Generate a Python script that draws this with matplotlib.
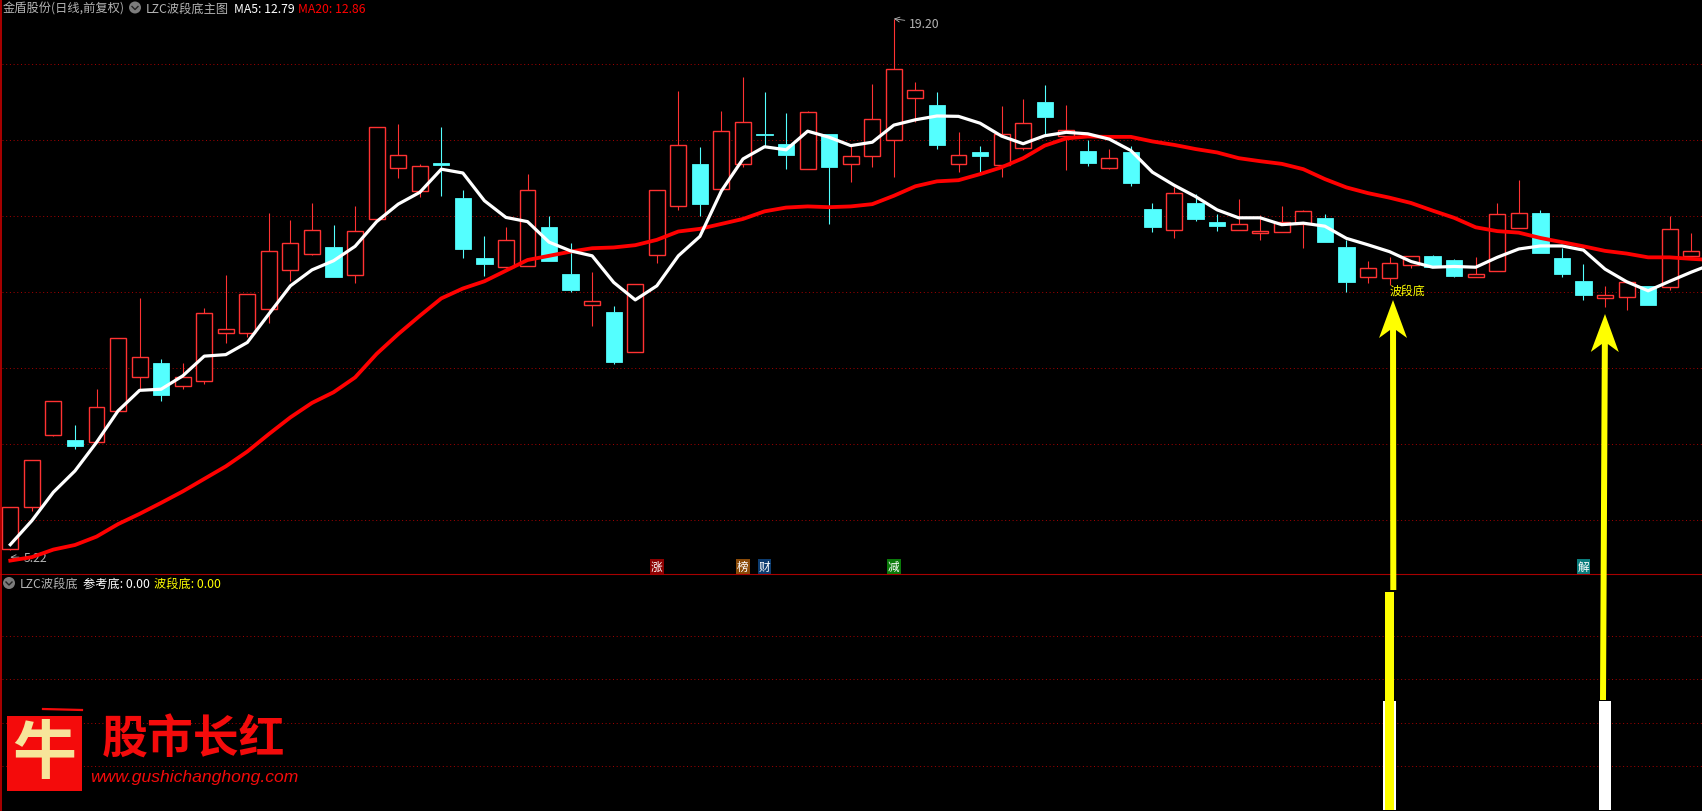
# Candlestick chart with MA lines and a signal pane below
import numpy as np
import matplotlib
matplotlib.use('Agg')
import matplotlib.pyplot as plt
from matplotlib.patches import Circle, Rectangle, Polygon

plt.rcParams['font.family'] = ['Noto Sans CJK SC', 'DejaVu Sans']

# price data
opens = [5.24, 6.36, 8.25, 8.11, 8.07, 8.88, 9.78, 10.14, 9.54, 9.67,
         10.94, 10.94, 11.55, 12.59, 13.02, 13.19, 12.46, 13.92, 15.26, 14.67,
         15.41, 14.48, 12.90, 12.67, 12.68, 13.72, 12.48, 11.67, 11.48, 10.44,
         12.99, 14.28, 15.38, 14.73, 15.38, 16.17, 15.90, 15.25, 16.17, 15.38,
         15.59, 16.00, 17.12, 16.93, 15.38, 15.69, 15.36, 15.80, 17.01, 16.11,
         15.72, 15.28, 15.69, 14.19, 13.65, 14.35, 13.85, 13.65, 13.56, 13.59,
         13.80, 13.96, 13.19, 12.41, 12.38, 12.73, 12.96, 12.85, 12.41, 12.57,
         13.70, 14.09, 12.90, 12.30, 11.84, 11.88, 12.17, 12.15, 12.96]
closes = [6.34, 7.60, 9.13, 7.95, 8.97, 10.79, 10.29, 9.30, 9.76, 11.45,
          11.03, 11.95, 13.10, 13.29, 13.63, 12.41, 13.61, 16.34, 15.61, 15.32,
          15.35, 13.15, 12.74, 13.37, 14.68, 12.82, 12.06, 11.77, 10.17, 12.21,
          14.68, 15.87, 14.32, 16.24, 16.47, 16.14, 15.61, 16.74, 15.30, 15.58,
          16.55, 17.87, 17.32, 15.88, 15.61, 15.59, 16.16, 16.45, 16.61, 16.26,
          15.40, 15.53, 14.88, 13.72, 14.61, 13.93, 13.74, 13.79, 13.61, 13.84,
          14.13, 13.32, 12.27, 12.63, 12.76, 12.95, 12.67, 12.43, 12.47, 14.05,
          14.08, 13.03, 12.48, 11.93, 11.93, 12.26, 11.67, 13.66, 13.10]
highs = [6.34, 7.60, 9.13, 8.51, 9.45, 10.79, 11.85, 10.24, 10.14, 11.59,
         12.45, 11.95, 14.10, 13.90, 14.35, 13.77, 14.27, 16.34, 16.43, 15.38,
         16.35, 14.69, 13.48, 13.72, 15.11, 14.01, 13.30, 12.53, 11.64, 12.21,
         14.68, 17.30, 15.82, 16.77, 17.67, 17.27, 16.72, 16.77, 16.17, 15.86,
         17.48, 19.20, 17.53, 17.27, 16.22, 15.85, 16.90, 17.09, 17.46, 16.93,
         16.01, 15.77, 15.85, 14.35, 14.77, 14.59, 14.06, 14.46, 14.03, 14.27,
         14.17, 14.06, 13.38, 12.82, 12.93, 12.95, 12.98, 12.88, 12.93, 14.35,
         14.96, 14.17, 13.17, 12.74, 12.17, 12.26, 12.17, 14.01, 13.56]
lows = [5.22, 6.25, 8.21, 7.88, 8.07, 8.88, 9.45, 9.15, 9.45, 9.59,
        10.67, 10.82, 11.20, 12.31, 12.98, 12.41, 12.25, 13.92, 15.01, 14.51,
        14.53, 12.90, 12.43, 12.64, 12.68, 12.82, 12.02, 11.12, 10.12, 10.44,
        12.77, 14.17, 14.01, 14.73, 15.31, 15.82, 15.24, 15.25, 13.80, 14.90,
        15.30, 15.04, 16.48, 15.77, 15.17, 15.14, 15.03, 15.74, 16.17, 15.22,
        15.32, 15.24, 14.80, 13.59, 13.43, 13.88, 13.61, 13.65, 13.38, 13.59,
        13.17, 13.32, 12.01, 12.24, 12.19, 12.64, 12.67, 12.40, 12.41, 12.57,
        13.70, 13.03, 12.40, 11.80, 11.61, 11.53, 11.67, 12.06, 12.93]

# one extra point so the lines run off the right edge
ma5 = [5.36, 5.99, 6.74, 7.30, 8.05, 8.88, 9.42, 9.45, 9.80, 10.32,
       10.36, 10.68, 11.43, 12.17, 12.59, 12.83, 13.21, 13.86, 14.32, 14.63,
       15.24, 15.14, 14.41, 13.97, 13.86, 13.32, 13.09, 12.96, 12.26, 11.80,
       12.17, 12.96, 13.47, 14.67, 15.51, 15.83, 15.75, 16.24, 16.08, 15.86,
       15.95, 16.40, 16.54, 16.64, 16.63, 16.45, 16.11, 15.91, 16.12, 16.21,
       16.17, 16.03, 15.73, 15.16, 14.82, 14.52, 14.17, 13.96, 13.96, 13.78,
       13.82, 13.74, 13.42, 13.25, 13.07, 12.81, 12.66, 12.68, 12.66, 12.92,
       13.14, 13.22, 13.22, 13.11, 12.61, 12.28, 12.04, 12.29, 12.53, 12.75]
ma20 = [4.94, 5.03, 5.23, 5.35, 5.57, 5.90, 6.17, 6.46, 6.76, 7.09,
        7.42, 7.81, 8.27, 8.71, 9.09, 9.37, 9.76, 10.38, 10.90, 11.38,
        11.84, 12.10, 12.29, 12.57, 12.85, 12.96, 13.07, 13.16, 13.18, 13.24,
        13.38, 13.60, 13.67, 13.80, 13.93, 14.13, 14.23, 14.26, 14.24, 14.26,
        14.32, 14.54, 14.79, 14.92, 14.95, 15.11, 15.29, 15.53, 15.86, 16.05,
        16.10, 16.09, 16.09, 15.97, 15.88, 15.77, 15.68, 15.53, 15.45, 15.38,
        15.24, 14.98, 14.76, 14.61, 14.49, 14.35, 14.15, 13.96, 13.71, 13.61,
        13.57, 13.43, 13.32, 13.21, 13.09, 13.02, 12.92, 12.92, 12.88, 12.85]

price_grid = [6, 8, 10, 12, 14, 16, 18]
signal_grid = [0.4, 0.8, 1.2, 1.6]

# lower pane signals
ref_idx = [64, 74]
ref_val = [1, 1]
wave_idx = [64]
wave_val = [2]

# small flags sitting on the pane border
flag_idx = [30, 34, 35, 41, 73]
flag_txt = ['涨', '榜', '财', '减', '解']
flag_col = ['#8b0000', '#8a4a08', '#0c3c70', '#0a7a0a', '#0a7d7d']

RED = '#ff3232'
CYAN = '#54ffff'
GRID = '#a00000'
W, H = 1702, 812
px = 0.72  # one pixel in points at dpi 100
SPLIT = 575.3

fig = plt.figure(figsize=(W / 100, H / 100), dpi=100, facecolor='black')
ax1 = fig.add_axes([0, (H - SPLIT) / H, 1, SPLIT / H], facecolor='black')
ax2 = fig.add_axes([0, 0, 1, (H - SPLIT) / H], facecolor='black')
top = fig.add_axes([0, 0, 1, 1], facecolor='none')  # overlay in pixel units
for a in (ax1, ax2, top):
    a.axis('off')
top.set_xlim(0, W)
top.set_ylim(H, 0)
top.set_zorder(5)

step = 21.55
xlim = (-10.3 / step, (W - 10.3) / step)
ax1.set_xlim(xlim)
ax1.set_ylim(18 - (SPLIT - 65.3) / 38, 18 + 65.3 / 38)
ax2.set_xlim(xlim)
ax2.set_ylim(-1 / 109, (811 - SPLIT) / 109)

# grid
dots = (0, (1, 2.7))
for g in price_grid:
    ax1.plot([-0.38, xlim[1]], [g, g], color=GRID, lw=px, ls=dots, zorder=1)
for g in signal_grid:
    ax2.plot([-0.38, xlim[1]], [g, g], color=GRID, lw=px, ls=dots, zorder=1)

# candles
x = np.arange(len(opens))
o, c, h, l = map(np.array, (opens, closes, highs, lows))
up = c >= o
cols = [RED if u else CYAN for u in up]
body_top = np.maximum(o, c)
body_bot = np.minimum(o, c)
ax1.vlines(x, body_top, h, colors=cols, lw=1.1 * px, zorder=2)
ax1.vlines(x, l, body_bot, colors=cols, lw=1.1 * px, zorder=2)
ax1.bar(x[up], (body_top - body_bot)[up], bottom=body_bot[up], width=0.74,
        facecolor='black', edgecolor=RED, lw=1.4 * px, zorder=3)
ax1.bar(x[~up], (body_top - body_bot)[~up], bottom=body_bot[~up], width=0.76,
        facecolor=CYAN, edgecolor=CYAN, lw=0.8 * px, zorder=3)

# moving averages
ax1.plot(np.arange(len(ma20)), ma20, color='#ff0000', lw=3.8 * px, zorder=4)
ax1.plot(np.arange(len(ma5)), ma5, color='white', lw=3.2 * px, zorder=5)

# high / low labels
gray = '#b4b4b4'
ax1.annotate('19.20', xy=(41, 19.2), xytext=(41.7, 19.08), color=gray, fontsize=8.8,
             va='center', arrowprops=dict(arrowstyle='->', color=gray, lw=0.6, shrinkA=1, shrinkB=0))
ax1.annotate('5.22', xy=(0, 5.03), xytext=(0.6, 5.03), color=gray, fontsize=8.8,
             va='center', arrowprops=dict(arrowstyle='->', color=gray, lw=0.6, shrinkA=1, shrinkB=0))
ax1.text(64, 12.06, '波段底', color='#ffff00', fontsize=8.6, va='center', ha='left', zorder=6)

# flags
for i, t, col in zip(flag_idx, flag_txt, flag_col):
    ax1.text(i, 4.79, t, color='white', fontsize=8.4, ha='center', va='center', zorder=6,
             bbox=dict(boxstyle='square,pad=0.08', facecolor=col, edgecolor='none'))

# signal bars
ax2.bar(ref_idx, ref_val, width=0.6, color='white', zorder=3)
ax2.bar(wave_idx, wave_val, width=0.42, color='#ffff00', zorder=4)

# pane border lines
top.axhline(575.3, color='#a80000', lw=1.1 * px)
top.axvline(0.8, color='#d00000', lw=1.6 * px)


def header(xp, yp, s, col):
    top.text(xp, yp, s, color=col, fontsize=8.8, va='center', ha='left')


def chevron(xp, yp):
    top.add_patch(Circle((xp, yp), 6, facecolor='#7c7c7c', edgecolor='none'))
    top.plot([xp - 3, xp, xp + 3], [yp - 1, yp + 2, yp - 1], color='#222222', lw=1.0)


# header texts
header(3, 9.5, '金盾股份(日线,前复权)', gray)
chevron(135, 8.5)
header(146, 9.5, 'LZC波段底主图', gray)
header(233.5, 9.5, 'MA5: 12.79', 'white')
header(298.5, 9.5, 'MA20: 12.86', '#ff0000')
chevron(9, 584)
header(19.5, 584, 'LZC波段底', gray)
header(83, 584, '参考底: 0.00', 'white')
header(154, 584, '波段底: 0.00', '#ffff00')


def arrow(tip, tail, head_len=38, head_w=28, shaft=6, notch=8):
    # hand drawn style pointer with swept back head
    tip, tail = np.array(tip, float), np.array(tail, float)
    d = (tail - tip) / np.linalg.norm(tail - tip)
    n = np.array([-d[1], d[0]])
    pts = [tip,
           tip + d * head_len + n * head_w / 2,
           tip + d * (head_len - notch) + n * shaft / 2,
           tail + n * shaft / 2,
           tail - n * shaft / 2,
           tip + d * (head_len - notch) - n * shaft / 2,
           tip + d * head_len - n * head_w / 2]
    top.add_patch(Polygon(pts, closed=True, facecolor='#ffff00', edgecolor='none', zorder=8))


arrow((1393, 301), (1393.3, 591))
arrow((1605, 315), (1603, 701))

# logo watermark
top.add_patch(Rectangle((7, 717), 75, 75, facecolor='#f40b0b', edgecolor='none', zorder=8))
top.plot([43, 82], [710, 711], color='#f40b0b', lw=1.6, zorder=8)
top.text(44.5, 754, '牛', color='#f7e59a', fontsize=46, fontweight='bold',
         ha='center', va='center', zorder=9)
top.text(193.5, 741, '股市长红', color='#f40b0b', fontsize=33, fontweight='bold',
         ha='center', va='center', zorder=9)
top.text(90.5, 778, 'www.gushichanghong.com', color='#f40b0b', fontsize=12.6,
         family='Liberation Sans', style='italic', ha='left', va='center', zorder=9)

fig.savefig('out.png', dpi=100, facecolor='black')
